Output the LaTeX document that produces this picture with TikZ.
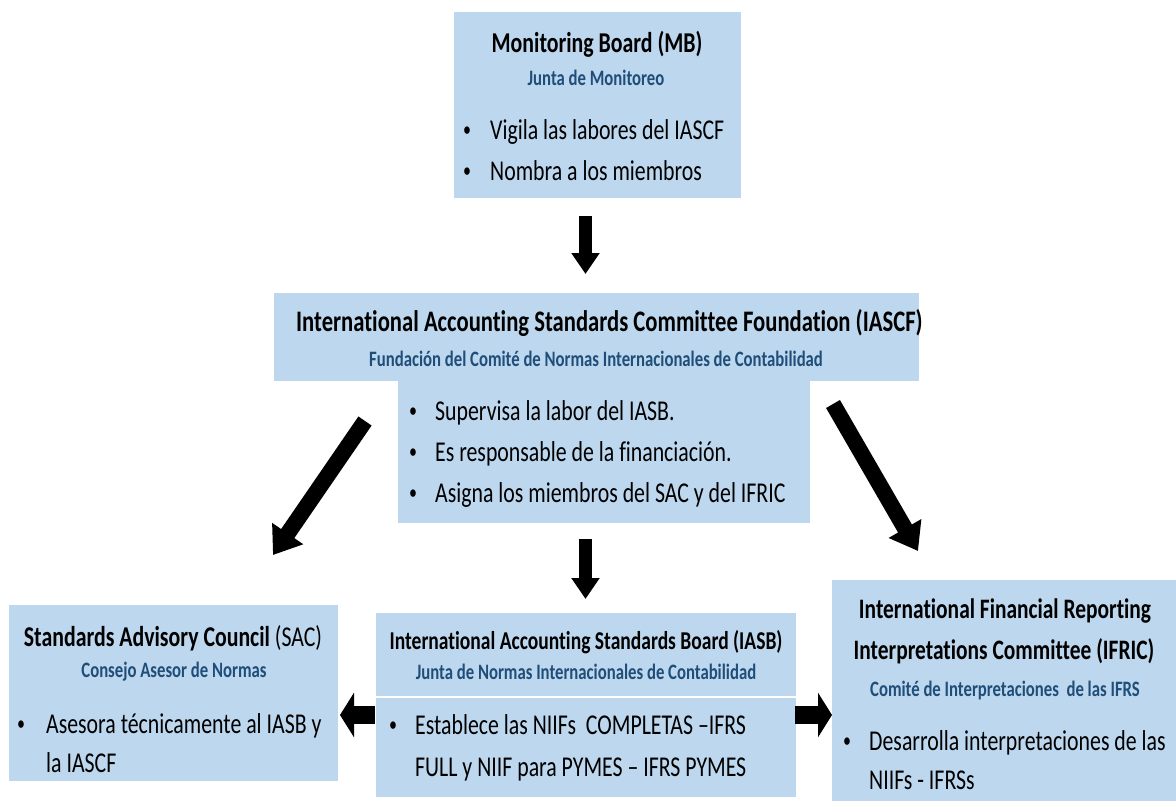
\documentclass[tikz,border=0pt]{standalone}
\usepackage{fontspec}
\setmainfont{Carlito}[FakeStretch=0.76, Ligatures=NoCommon]
\usetikzlibrary{arrows.meta,calc}
\definecolor{boxblue}{HTML}{BDD7EE}
\definecolor{subblue}{HTML}{1F4E79}
\begin{document}
\begin{tikzpicture}[x=1pt,y=-1pt,
  box/.style={fill=boxblue, draw=none, inner sep=0pt, outer sep=0pt},
  ttl/.style={font=\bfseries\fontsize{#1}{#1}\selectfont, inner sep=0pt, anchor=base},
  ttl/.default=28.7,
  sub/.style={font=\bfseries\fontsize{22}{22}\selectfont, text=subblue, inner sep=0pt, anchor=base},
  txt/.style={font=\fontsize{28.7}{28.7}\selectfont, inner sep=0pt, anchor=base west},
  bul/.style={font=\fontsize{21}{21}\selectfont, inner sep=0pt, anchor=base},
  varr/.style={line width=13pt, -{Triangle[length=21pt,width=27pt]}},
  darr/.style={line width=16pt, -{Triangle[length=26pt,width=36pt]}},
  harr/.style={line width=18pt, -{Triangle[length=14pt,width=44pt]}}
]
\useasboundingbox (0,0) rectangle (1176,801);
\fill[white] (0,0) rectangle (1176,801);

% boxes
\node[box, minimum width=287pt, minimum height=186pt] (mb) at (597.5,105) {};
\node[box, minimum width=645pt, minimum height=88pt] (iascf) at (596.5,337) {};
\node[box, minimum width=412pt, minimum height=143pt] (iascfb) at (604,451.5) {};
\node[box, minimum width=329pt, minimum height=176pt] (sac) at (173.5,693) {};
\node[box, minimum width=420pt, minimum height=184pt] (iasb) at (586,705) {};
\node[box, minimum width=344pt, minimum height=221pt] (ifric) at (1004,690.5) {};
\draw[white, line width=1.5pt] ($(iasb.north west)+(0,84)$) -- ($(iasb.north east)+(0,84)$);

% Monitoring Board
\node[ttl] (mbt) at (597,52) {Monitoring Board (MB)};
\node[sub] (mbs) at (596,85) {Junta de Monitoreo};
\node[bul] (mbb1) at (467,136) {•};
\node[txt] (mbl1) at (490,139) {Vigila las labores del IASCF};
\node[bul] (mbb2) at (467,177) {•};
\node[txt] (mbl2) at (490,180) {Nombra a los miembros};

% IASCF
\node[ttl=29.8, anchor=base west] (iat) at (296,331) {International Accounting Standards Committee Foundation (IASCF)};
\node[sub] (ias) at (596,366) {Fundación del Comité de Normas Internacionales de Contabilidad};
\node[bul] (iab1) at (413,417) {•};
\node[txt] (ial1) at (435,420) {Supervisa la labor del IASB.};
\node[bul] (iab2) at (413,458) {•};
\node[txt] (ial2) at (435,461) {Es responsable de la financiación.};
\node[bul] (iab3) at (413,499) {•};
\node[txt] (ial3) at (435,502) {Asigna los miembros del SAC y del IFRIC};

% SAC
\node[ttl, font=\fontsize{28.7}{28.7}\selectfont] (sact) at (173,646) {\textbf{Standards Advisory Council} (SAC)};
\node[sub] (sacs) at (174,677) {Consejo Asesor de Normas};
\node[bul] (sacb1) at (21,730) {•};
\node[txt] (sacl1) at (46,733) {Asesora técnicamente al IASB y};
\node[txt] (sacl2) at (46,772) {la IASCF};

% IASB
\node[ttl=25.7] (iasbt) at (586,649) {International Accounting Standards Board (IASB)};
\node[sub] (iasbs) at (586,679) {Junta de Normas Internacionales de Contabilidad};
\node[bul] (iasbb1) at (393,731) {•};
\node[txt] (iasbl1) at (415,734) {Establece las NIIFs\ \ COMPLETAS –IFRS};
\node[txt] (iasbl2) at (415,776) {FULL y NIIF para PYMES – IFRS PYMES};

% IFRIC
\node[ttl=28.2] (ift1) at (1005,618) {International Financial Reporting};
\node[ttl=28.2] (ift2) at (1004,659) {Interpretations Committee (IFRIC)};
\node[sub] (ifs) at (1005,696) {Comité de Interpretaciones\ \ de las IFRS};
\node[bul] (ifb1) at (847,747) {•};
\node[txt] (ifl1) at (869,750) {Desarrolla interpretaciones de las};
\node[txt] (ifl2) at (869,789) {NIIFs - IFRSs};

% arrow end points
\coordinate (a1s) at (585.5,216); \coordinate (a1e) at (585.5,274);
\coordinate (a2s) at (585.5,539); \coordinate (a2e) at (585.5,599);
\coordinate (a3s) at (365,421);   \coordinate (a3e) at (273,555);
\coordinate (a4s) at (833,404);   \coordinate (a4e) at (918,551);
\coordinate (a5s) at (375,715);   \coordinate (a5e) at (340,715);
\coordinate (a6s) at (795,715);   \coordinate (a6e) at (832,715);

\draw[varr] (a1s) -- (a1e);
\draw[varr] (a2s) -- (a2e);
\draw[darr] (a3s) -- (a3e);
\draw[darr] (a4s) -- (a4e);
\draw[harr] (a5s) -- (a5e);
\draw[harr] (a6s) -- (a6e);
\end{tikzpicture}
\end{document}
